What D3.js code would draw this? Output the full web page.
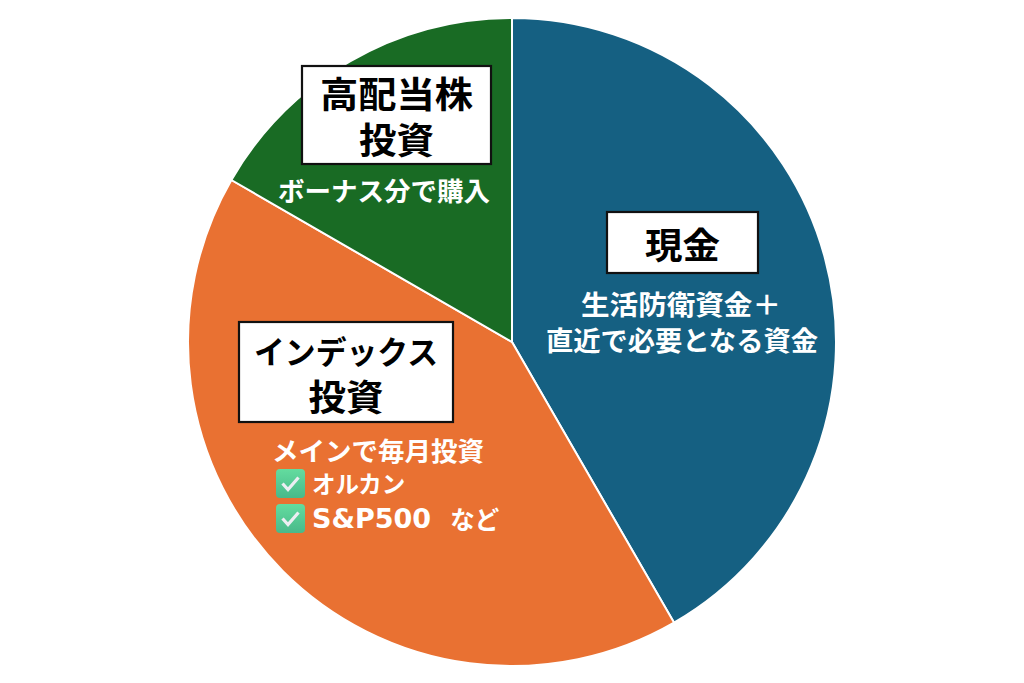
<!DOCTYPE html>
<html><head><meta charset="utf-8"><script src="https://cdn.jsdelivr.net/npm/d3@7/dist/d3.min.js"></script>
<style>html,body{margin:0;background:#fff}svg{display:block}text{font-family:"Noto Sans CJK JP","Noto Sans",sans-serif;font-weight:700;white-space:pre}</style></head><body>
<script>
const categories=["現金","インデックス投資","高配当株投資"];
const values=[5,5,2];
const colors=["#156082","#E97132","#196B24"];
const W=1024,H=683,cx=512,cy=342,R=324;
const svg=d3.select("body").append("svg").attr("width",W).attr("height",H);
const arcs=d3.pie().sort(null)(values);
const arc=d3.arc().innerRadius(0).outerRadius(R);
svg.append("g").attr("transform",`translate(${cx},${cy})`).selectAll("path").data(arcs).join("path").attr("d",arc).attr("fill",(d,i)=>colors[i]).attr("stroke","#fff").attr("stroke-width",2);
const boxes=[
 {x:607,y:212,w:151,h:61,lines:[["現金",36,75]],ys:[242.5]},
 {x:239,y:322,w:214,h:100,lines:[["インデックス",32,184],["投資",36,75]],ys:[350,395]},
 {x:302,y:66,w:189,h:98,lines:[["高配当株",36,153],["投資",36,75]],ys:[92,138]}];
boxes.forEach(b=>{
 svg.append("rect").attr("x",b.x).attr("y",b.y).attr("width",b.w).attr("height",b.h).attr("fill","#fff").attr("stroke","#111").attr("stroke-width",2.2);
 b.lines.forEach((t,i)=>svg.append("text").attr("x",b.x+b.w/2).attr("y",b.ys[i]).attr("text-anchor","middle").attr("dominant-baseline","central").attr("font-size",t[1]).attr("textLength",t[2]).attr("lengthAdjust","spacingAndGlyphs").attr("fill","#000").text(t[0]));
});
const labels=[
 ["生活防衛資金＋",681,303,27,200],["直近で必要となる資金",682,339,27,272],
 ["ボーナス分で購入",384,189,26,212],["メインで毎月投資",378,449,26,212]];
labels.forEach(l=>svg.append("text").attr("x",l[1]).attr("y",l[2]).attr("text-anchor","middle").attr("dominant-baseline","central").attr("font-size",l[3]).attr("textLength",l[4]).attr("lengthAdjust","spacingAndGlyphs").attr("fill","#fff").text(l[0]));
svg.append("text").attr("x",312).attr("y",483).attr("dominant-baseline","central").attr("font-size",23.5).attr("fill","#fff").text("オルカン");
const t=svg.append("text").attr("x",312).attr("y",518).attr("dominant-baseline","central").attr("fill","#fff");
t.append("tspan").style("font-family","'DejaVu Sans'").attr("font-size",27).text("S&P500");
t.append("tspan").attr("dx",19).attr("font-size",24.5).text("など");
const grad=svg.append("defs").append("linearGradient").attr("id","chk").attr("x1",0).attr("y1",0).attr("x2",0).attr("y2",1);
grad.append("stop").attr("offset","0").attr("stop-color","#63DC9F");
grad.append("stop").attr("offset","1").attr("stop-color","#49B98A");
[483.5,518.5].forEach(y=>{const g=svg.append("g").attr("transform",`translate(290.5,${y})`);
 g.append("rect").attr("x",-14.5).attr("y",-14.5).attr("width",29).attr("height",29).attr("rx",4).attr("fill","url(#chk)");
 g.append("path").attr("d","M-8,0L-2.5,6L8,-6").attr("fill","none").attr("stroke","#ECEEF2").attr("stroke-width",3.2);});
</script></body></html>
